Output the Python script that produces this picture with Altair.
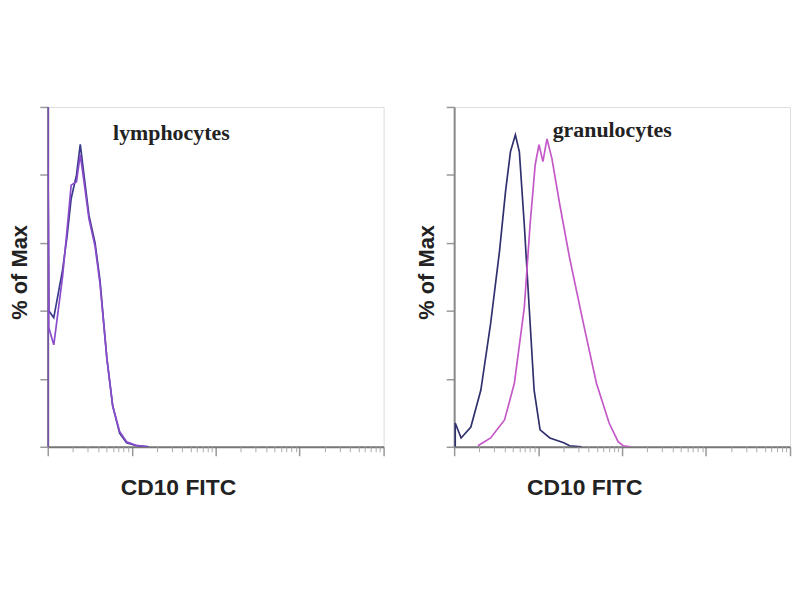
import altair as alt
import pandas as pd

# ---- data ----
# Lymphocytes panel (fluorescence value, % of max)
lymph_x = [1.0, 1.0, 1.03, 1.18, 1.5, 1.7, 1.9, 2.2, 2.44, 2.7, 3.1, 3.66, 4.19, 5.06, 5.94, 7.18, 8.68, 11.4, 16.0]
lymph_control = [0, 100, 40, 38, 52, 62, 73, 80, 89, 80, 68, 60, 49, 26, 12, 4, 1.2, 0.3, 0]
lymph_cd10 = [0, 100, 35, 30, 50, 64, 77, 78, 86, 78, 67, 59, 48, 26, 12, 4.5, 1.5, 0.4, 0]

# Granulocytes panel
gran_control_x = [1.03, 1.03, 1.21, 1.58, 2.08, 2.72, 3.47, 4.09, 4.68, 5.36, 5.98, 6.84, 7.83, 8.96, 10.55, 13.8, 20.2, 23.7, 32.9]
gran_control_y = [0, 7, 2.6, 5.8, 16.7, 36.3, 57.6, 75.1, 86.8, 91.8, 86.8, 65.5, 40.9, 16.7, 5.0, 2.6, 1.2, 0.3, 0]
gran_cd10_x = [1.92, 2.72, 3.98, 5.21, 6.84, 8.03, 9.23, 10.25, 11.4, 12.75, 14.6, 18.1, 23.7, 34.6, 49.5, 70.1, 89.6, 102.7, 127]
gran_cd10_y = [0.3, 2.6, 7.9, 18.7, 40.9, 65.5, 83.0, 88.9, 83.9, 90.6, 84.8, 71.3, 55.6, 36.3, 18.7, 7.0, 1.5, 0.3, 0]

panel_labels = ["lymphocytes", "granulocytes"]
label_pos_x = [6.0, 14.9]
label_pos_y = [90.4, 91.2]

major_ticks = [1, 10, 100, 1000, 10000]
minor_ticks = [m * 10 ** k for k in range(4) for m in range(2, 10)]
y_ticks = [0, 20, 40, 60, 80, 100]

x_title = "CD10 FITC"
y_title = "% of Max"

W, H = 338, 342


def make_df(pairs):
    rows = []
    for series, xs, ys in pairs:
        for i, (xv, yv) in enumerate(zip(xs, ys)):
            rows.append({"series": series, "x": xv, "y": yv, "i": i})
    return pd.DataFrame(rows)


def panel(df, colors, label, lx, ly):
    xscale = alt.Scale(type="log", domain=[1, 10000], nice=False)
    yscale = alt.Scale(domain=[0, 100], nice=False)
    major_axis = alt.Axis(
        orient="bottom", values=major_ticks, labels=False, grid=False,
        tickSize=9, tickColor="#999999", tickWidth=1.5,
        domainColor="#777777", domainWidth=2,
        title=x_title, titleFont="Liberation Sans", titleFontSize=23,
        titleFontWeight="bold", titleColor="#222222",
        titleX=131, titleY=48, titleAlign="center", titleBaseline="alphabetic",
    )
    minor_axis = alt.Axis(
        orient="bottom", values=minor_ticks, labels=False, grid=False,
        tickSize=5, tickColor="#aaaaaa", tickWidth=1, domain=False, title=None,
    )
    y_axis = alt.Axis(
        values=y_ticks, labels=False, grid=False, tickSize=8,
        tickColor="#999999", tickWidth=1.5, domainColor="#888888", domainWidth=2,
        title=y_title, titleFont="Liberation Sans", titleFontSize=22,
        titleFontWeight="bold", titleColor="#222222",
        titleX=-21, titleY=166, titleAngle=-90, titleAlign="center",
        titleBaseline="alphabetic",
    )
    lines = alt.Chart(df).mark_line(strokeWidth=1.7, clip=True).encode(
        x=alt.X("x:Q", scale=xscale, axis=major_axis),
        y=alt.Y("y:Q", scale=yscale, axis=y_axis),
        color=alt.Color("series:N", scale=alt.Scale(domain=list(colors.keys()),
                                                      range=list(colors.values())),
                        legend=None),
        order="i:Q",
    )
    minor = alt.Chart(df).mark_point(opacity=0).encode(
        x=alt.X("x:Q", scale=xscale, axis=minor_axis),
        y=alt.Y("y:Q", scale=yscale, axis=y_axis),
    )
    text = alt.Chart(pd.DataFrame({"t": [label], "x": [lx], "y": [ly]})).mark_text(
        font="Liberation Serif", fontSize=22, fontWeight="bold", color="#222222",
        align="left", baseline="alphabetic",
    ).encode(
        x=alt.X("x:Q", scale=xscale, axis=None),
        y=alt.Y("y:Q", scale=yscale, axis=y_axis),
        text="t:N",
    )
    return alt.layer(lines, minor, text).resolve_axis(x="independent").properties(
        width=W, height=H
    )


df_l = make_df([("lymph control", lymph_x, lymph_control), ("lymph cd10", lymph_x, lymph_cd10)])
df_g = make_df([("gran control", gran_control_x, gran_control_y), ("gran cd10", gran_cd10_x, gran_cd10_y)])

left = panel(df_l, {"lymph control": "#3a3a8a", "lymph cd10": "#8a4ccc"},
             panel_labels[0], label_pos_x[0], label_pos_y[0])
right = panel(df_g, {"gran control": "#30306e", "gran cd10": "#c458c8"},
              panel_labels[1], label_pos_x[1], label_pos_y[1])

chart = alt.hconcat(left, right, spacing=29).resolve_scale(color="independent").properties(
    padding={"left": 0, "top": 94, "right": 0, "bottom": 5}
).configure_view(stroke="#a0a0a0", strokeWidth=2.5).configure(background="white")

chart.save("out.html", embed_options={"renderer": "svg", "actions": False})
